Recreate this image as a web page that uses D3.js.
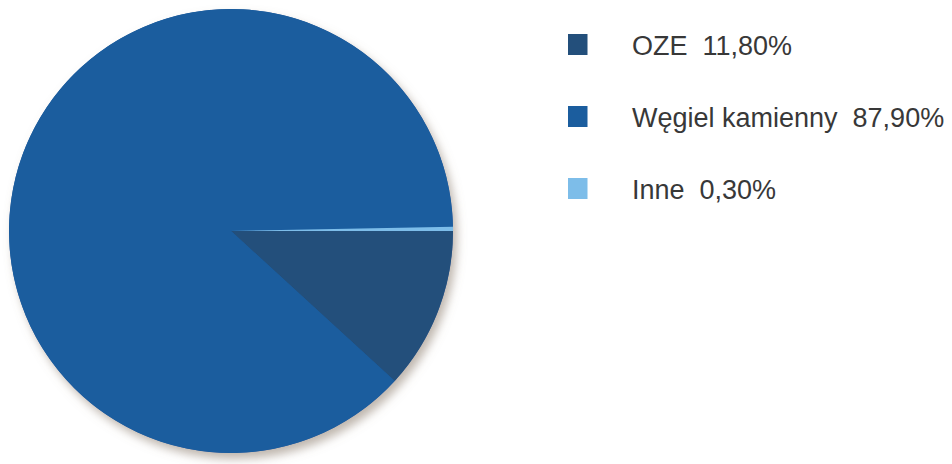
<!DOCTYPE html>
<html>
<head>
<meta charset="utf-8">
<script src="https://cdn.jsdelivr.net/npm/d3@7/dist/d3.min.js"></script>
<style>
  html, body { margin: 0; padding: 0; background: #ffffff; }
  svg { display: block; }
</style>
</head>
<body>
<svg id="chart" width="952" height="464"></svg>
<script>
const categories = ["OZE", "Węgiel kamienny", "Inne"];
const values = [11.8, 87.9, 0.3];
const valueLabels = ["11,80%", "87,90%", "0,30%"];
const colors = ["#234f7b", "#1b5d9e", "#7dbde9"];

const svg = d3.select("#chart");
const cx = 231, cy = 231, r = 222;

const defs = svg.append("defs");
const f = defs.append("filter").attr("id", "shadow")
  .attr("x", "-10%").attr("y", "-10%").attr("width", "125%").attr("height", "125%");
f.append("feDropShadow").attr("dx", 4).attr("dy", 6).attr("stdDeviation", 5)
  .attr("flood-color", "#8a7c6c").attr("flood-opacity", 0.55);

const data = categories.map((c, i) => ({ name: c, value: values[i], label: valueLabels[i], color: colors[i] }));

const pie = d3.pie().sort(null).value(d => d.value)
  .startAngle(Math.PI / 2).endAngle(Math.PI / 2 + 2 * Math.PI);
const arc = d3.arc().innerRadius(0).outerRadius(r);

const g = svg.append("g").attr("transform", `translate(${cx},${cy})`);
g.append("circle").attr("r", r).attr("fill", colors[1]).attr("filter", "url(#shadow)");
g.selectAll("path.slice").data(pie(data)).join("path")
  .attr("class", "slice")
  .attr("d", arc)
  .attr("fill", d => d.data.color);

const legend = svg.append("g");
const rowY = d3.scalePoint().domain(categories).range([44.5, 188.5]);
const items = legend.selectAll("g.item").data(data).join("g")
  .attr("class", "item")
  .attr("transform", d => `translate(568,${rowY(d.name)})`);
items.append("rect").attr("x", 0).attr("y", -10.5).attr("width", 19.5).attr("height", 21)
  .attr("fill", d => d.color);
items.append("text")
  .attr("x", 64).attr("y", 10)
  .attr("font-family", "'Liberation Sans', Arial, sans-serif")
  .attr("font-size", 27)
  .attr("fill", "#383838")
  .attr("xml:space", "preserve")
  .style("white-space", "pre")
  .text(d => `${d.name}  ${d.label}`);
</script>
</body>
</html>
